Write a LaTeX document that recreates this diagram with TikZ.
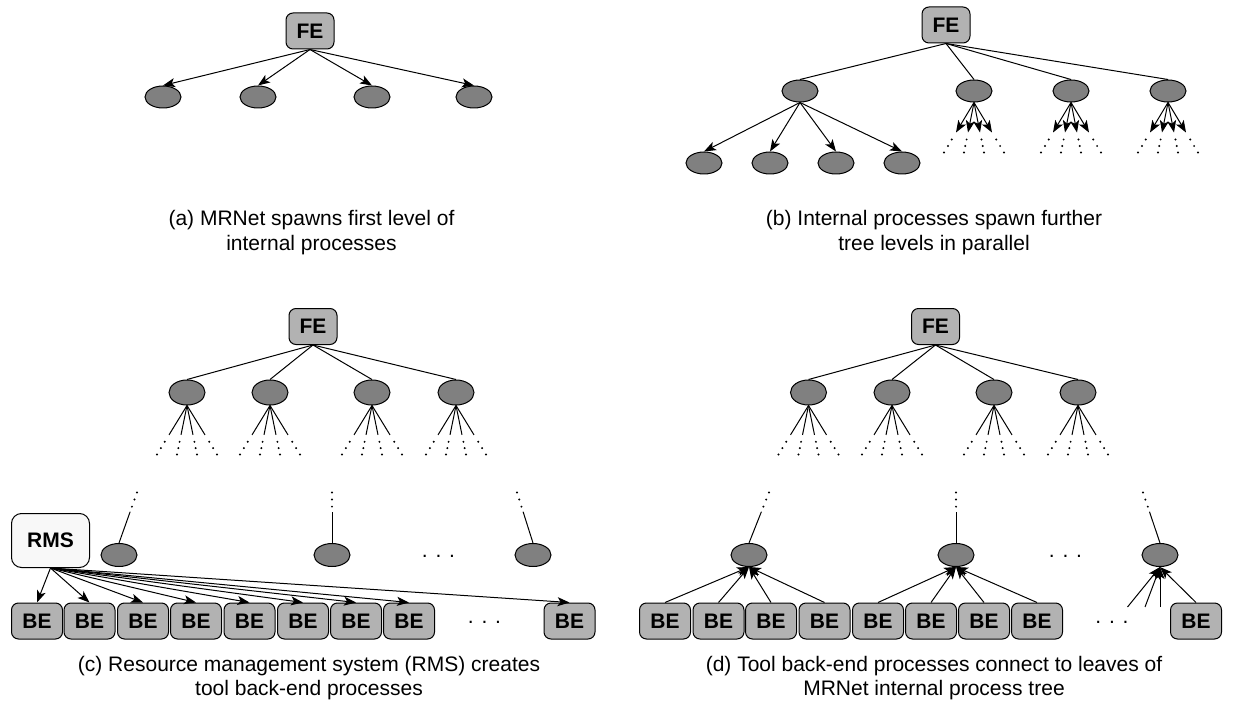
\documentclass[tikz,border=0pt]{standalone}
\usepackage{fontspec}
\setmainfont{Liberation Sans}
\usetikzlibrary{shapes.geometric,arrows.meta,calc}
\definecolor{procgray}{RGB}{128,128,128}
\definecolor{boxgray}{RGB}{178,178,178}
\definecolor{rmswhite}{RGB}{248,248,248}

% four short links fanning out of a process, solid first, then dotted
\newcommand{\fanlines}[3]{%
  \foreach \dx [count=\k] in {-30,-10,10,30}{
    \coordinate (#1-leaf\k) at ($(#1.south)+(\dx,#3)$);
    \draw[#2] (#1.south) -- ($(#1.south)!0.6!(#1-leaf\k)$);
    \foreach \t in {0.74,0.87,1}
      \fill ($(#1.south)!\t!(#1-leaf\k)$) circle[radius=1.1pt];
  }}
% one link rising from a leaf process, solid first, then dotted
\newcommand{\uplink}[2]{%
  \coordinate (#1-up) at ($(#1.north)+(#2,-50.5)$);
  \draw[link] (#1.north) -- ($(#1.north)!0.62!(#1-up)$);
  \foreach \t in {0.72,0.86,1}
    \fill ($(#1.north)!\t!(#1-up)$) circle[radius=1.1pt];}

\begin{document}
\begin{tikzpicture}[x=1pt,y=-1pt,
  proc/.style={ellipse,draw=black,fill=procgray,line width=1pt,
    minimum width=36pt,minimum height=23pt,inner sep=0pt},
  procs/.style={proc,minimum height=22pt},
  procl/.style={proc,minimum height=25pt},
  fe/.style={draw=black,fill=boxgray,rounded corners=7pt,line width=1pt,
    minimum width=48pt,minimum height=36pt,inner sep=0pt,
    font=\fontsize{21}{24}\selectfont\bfseries},
  be/.style={fe,minimum width=51pt},
  rms/.style={fe,fill=rmswhite,minimum width=78pt,minimum height=54pt,rounded corners=10pt},
  link/.style={line width=1pt},
  arr/.style={link,-{Stealth[length=12pt,width=9pt,inset=3pt]}},
  captext/.style={anchor=base,inner sep=0pt,font=\fontsize{21}{24}\selectfont},
]
\useasboundingbox (0,0) rectangle (1236,711);

% ---------- (a) first level spawned by the front end ----------
\node[fe] (aFE) at (310,31) {FE};
\foreach \x [count=\i] in {163,258,372,474}
  \node[procs] (a\i) at (\x,97) {};
\foreach \i in {1,...,4}
  \draw[arr] (aFE.south) -- (a\i.north);
\node[captext] (capa1) at (311.5,226) {(a) MRNet spawns first level of};
\node[captext] (capa2) at (311.5,250.5) {internal processes};

% ---------- (b) further levels spawned in parallel ----------
\node[fe] (bFE) at (946,25) {FE};
\foreach \x [count=\i] in {800,974,1071,1168}
  \node[procs] (b\i) at (\x,91) {};
\foreach \x [count=\i] in {704,770,836,902}
  \node[procs] (bb\i) at (\x,163) {};
\foreach \i in {1,...,4}
  \draw[link] (bFE.south) -- (b\i.north);
\foreach \i in {1,...,4}
  \draw[arr] (b1.south) -- (bb\i.north);
\fanlines{b2}{arr}{50}
\fanlines{b3}{arr}{50}
\fanlines{b4}{arr}{50}
\node[captext] (capb1) at (934,226) {(b) Internal processes spawn further};
\node[captext] (capb2) at (934,250.5) {tree levels in parallel};

% ---------- (c) RMS creates the back-ends ----------
\node[fe] (cFE) at (313,326.5) {FE};
\foreach \x [count=\i] in {187,270,372,456}
  \node[procl] (c\i) at (\x,392.5) {};
\foreach \i in {1,...,4}{
  \draw[link] (cFE.south) -- (c\i.north);
  \fanlines{c\i}{link}{49}
}
\node[proc] (cL) at (119,555) {};
\node[proc] (cM) at (332,555) {};
\node[proc] (cR) at (533,555) {};
\uplink{cL}{18}
\uplink{cM}{0}
\uplink{cR}{-16}
\node[captext] (cdotsA) at (438.5,557) {. . .};
\node[rms] (rms) at (50.5,540.5) {RMS};
\foreach \x [count=\i] in {37,89.5,143,196,249.5,303,356,409,569.5}
  \node[be] (cbe\i) at (\x,621) {BE};
\foreach \i in {1,...,9}
  \draw[arr] (rms.south) -- (cbe\i.north);
\node[captext] (cdotsB) at (484.5,623) {. . .};
\node[captext] (capc1) at (309,671) {(c) Resource management system (RMS) creates};
\node[captext] (capc2) at (309,695) {tool back-end processes};

% ---------- (d) back-ends connect to the leaves ----------
\node[fe] (dFE) at (935.5,326.5) {FE};
\foreach \x [count=\i] in {808.5,892,994,1078}
  \node[procl] (d\i) at (\x,392.5) {};
\foreach \i in {1,...,4}{
  \draw[link] (dFE.south) -- (d\i.north);
  \fanlines{d\i}{link}{49}
}
\node[proc] (dL) at (749,555) {};
\node[proc] (dM) at (956,555) {};
\node[proc] (dR) at (1160,555) {};
\uplink{dL}{20}
\uplink{dM}{0}
\uplink{dR}{-17}
\node[captext] (ddotsA) at (1065.5,557.5) {. . .};
\foreach \x [count=\i] in {665,718.5,771,824.5,878,931,984,1037,1196}
  \node[be] (dbe\i) at (\x,621) {BE};
\foreach \i in {1,...,4}
  \draw[arr] (dbe\i.north) -- (dL.south);
\foreach \i in {5,...,8}
  \draw[arr] (dbe\i.north) -- (dM.south);
\coordinate (dRin1) at (1127.5,607);
\coordinate (dRin2) at (1145,607);
\coordinate (dRin3) at (1160,607);
\foreach \c in {dRin1,dRin2,dRin3}
  \draw[arr] (\c) -- (dR.south);
\draw[arr] (dbe9.north) -- (dR.south);
\node[captext] (ddotsB) at (1112,623) {. . .};
\node[captext] (capd1) at (934,671) {(d) Tool back-end processes connect to leaves of};
\node[captext] (capd2) at (934,695) {MRNet internal process tree};
\end{tikzpicture}
\end{document}
